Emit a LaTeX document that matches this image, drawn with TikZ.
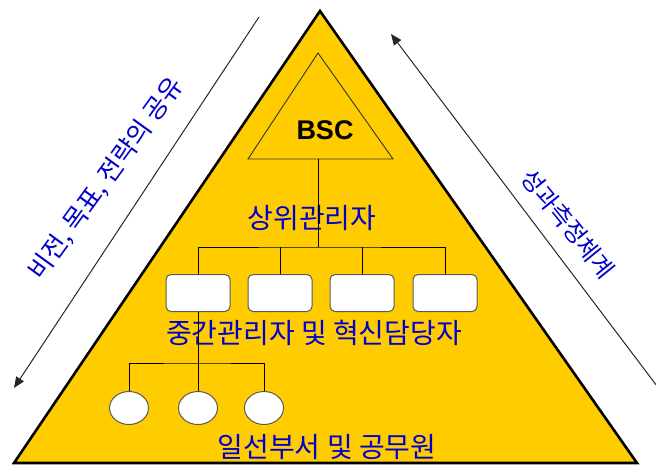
\documentclass[tikz,border=0pt]{standalone}
\usepackage{fontspec}
\setmainfont{Liberation Sans}
\newfontfamily\kr{Noto Sans CJK KR}
\usetikzlibrary{arrows.meta,shapes.geometric}
\definecolor{pyr}{HTML}{FFCC00}
\definecolor{krblue}{HTML}{0000CC}
\tikzset{
  px/.style={x=1pt,y=-1pt},
  pyramid/.style={draw=black,line width=2.6pt,fill=pyr,line join=miter},
  inner/.style={draw=black!80,line width=0.9pt},
  link/.style={draw=black,line width=0.9pt},
  wbox/.style={draw=black!65,line width=1pt,fill=white,rounded corners=5pt,minimum width=64pt,minimum height=37pt,inner sep=0pt},
  wcirc/.style={draw=black!65,line width=1pt,fill=white,ellipse,minimum width=39pt,minimum height=33pt,inner sep=0pt},
  lbl/.style={font=\kr\fontsize{28}{30}\selectfont,text=krblue,inner sep=0pt},
  sidel/.style={font=\kr\fontsize{25.5}{27}\selectfont,text=krblue,inner sep=0pt},
  sider/.style={font=\kr\fontsize{24}{26}\selectfont,text=krblue,inner sep=0pt},
  flow/.style={draw=black!85,line width=1pt,-{Triangle[length=11pt,width=9pt]}},
}
\begin{document}
\begin{tikzpicture}[px]
\useasboundingbox (0,0) rectangle (656,467);
% big pyramid
\coordinate (A) at (320,11);
\coordinate (BL) at (14,463);
\coordinate (BR) at (637,463);
\draw[pyramid] (A) -- (BR) -- (BL) -- cycle;
% BSC triangle
\coordinate (ia) at (318,53);
\coordinate (ibl) at (248,159);
\coordinate (ibr) at (393,159);
\draw[inner] (ia) -- (ibr) -- (ibl) -- cycle;
\node[font=\bfseries\fontsize{27}{29}\selectfont,inner sep=0pt] (bsc) at (325,130) {BSC};
\coordinate (bscb) at (318,159);
% labels
\node[lbl] (top) at (312,218) {상위관리자};
\node[lbl] (mid) at (314,333) {중간관리자 및 혁신담당자};
\node[lbl] (bot) at (327,447) {일선부서 및 공무원};
% boxes
\node[wbox] (b1) at (198,293) {};
\node[wbox] (b2) at (280,293) {};
\node[wbox] (b3) at (362,293) {};
\node[wbox] (b4) at (445,293) {};
\coordinate (bus1) at (318,247);
\draw[link] (bscb) -- (bus1);
\draw[link] (b1.north) |- (bus1) -| (b4.north);
\draw[link] (b2.north) -- (b2.north |- bus1);
\draw[link] (b3.north) -- (b3.north |- bus1);
% circles
\node[wcirc] (c1) at (129,408) {};
\node[wcirc] (c2) at (198,408) {};
\node[wcirc] (c3) at (264,408) {};
\coordinate (bus2) at (198,363);
\draw[link] (b1.south) -- (c2.north);
\draw[link] (c1.north) |- (bus2) -| (c3.north);
% side arrows
\coordinate (l1) at (259,17);
\coordinate (l2) at (14,388);
\draw[flow] (l1) -- (l2);
\coordinate (r1) at (660,390);
\coordinate (r2) at (391,34);
\draw[flow] (r1) -- (r2);
\node[sidel,rotate=54] (lt) at (106,179) {비전, 목표, 전략의 공유};
\node[sider,rotate=-51] (rt) at (568,224) {성과측정체계};
\end{tikzpicture}
\end{document}
